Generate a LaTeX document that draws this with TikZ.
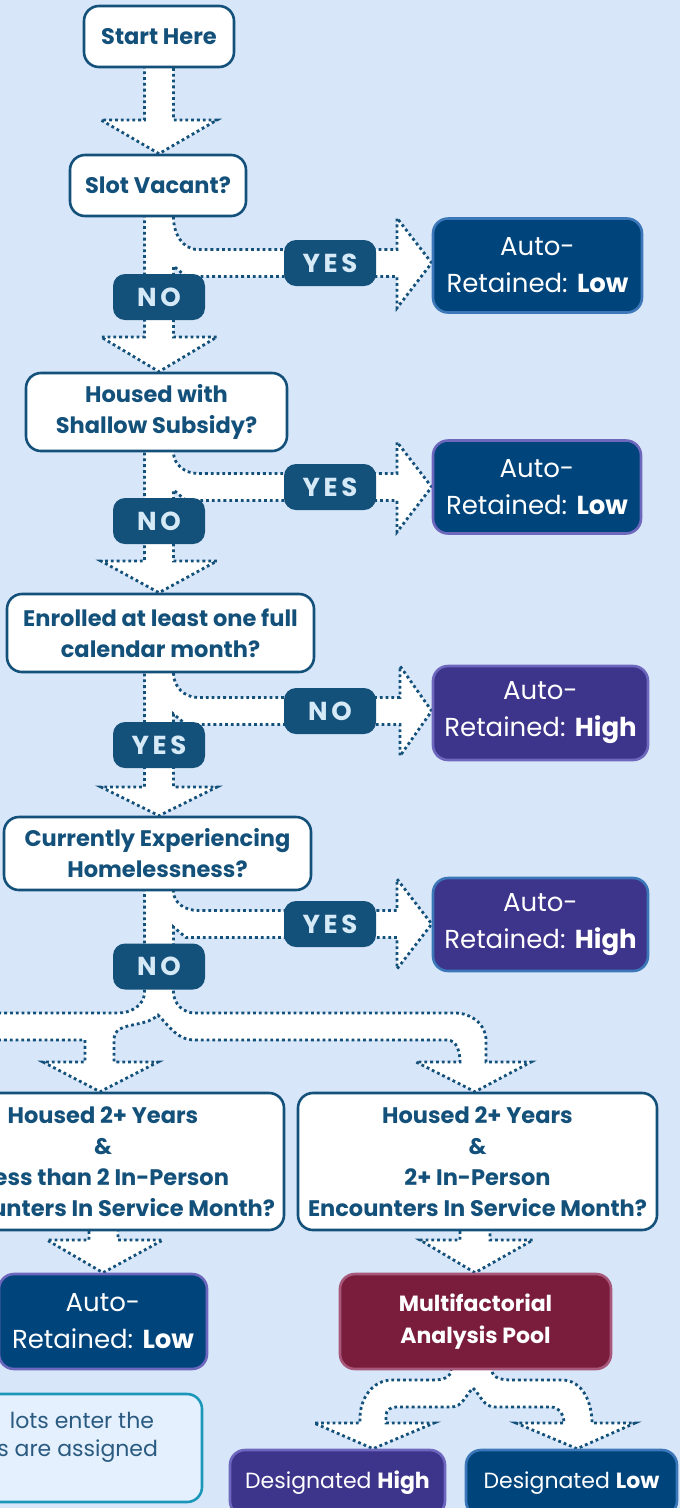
\documentclass[tikz,border=0pt]{standalone}
\usepackage{fontspec}
\setmainfont{Poppins}
\newfontfamily\pillfont[LetterSpace=14]{Poppins}
\usetikzlibrary{positioning, calc}
\definecolor{pagebg}{HTML}{D8E6F9}
\definecolor{qblue}{HTML}{13507A}
\definecolor{pilltxt}{HTML}{D5E9F6}
\definecolor{navyfill}{HTML}{00447C}
\definecolor{purplefill}{HTML}{3D348B}
\definecolor{blueedge}{HTML}{3C78B9}
\definecolor{purpleedge}{HTML}{6E67BE}
\definecolor{maroonfill}{HTML}{7A1C3C}
\definecolor{maroonedge}{HTML}{A8587A}
\definecolor{notefill}{HTML}{E4F0FD}
\definecolor{noteedge}{HTML}{1B98B9}
\definecolor{notetext}{HTML}{2A5A80}
\pgfdeclarelayer{back}
\pgfdeclarelayer{arrows}
\pgfsetlayers{back,arrows,main}

\begin{document}
\begin{tikzpicture}[x=1pt, y=-1pt,
  question/.style={draw=qblue, line width=2.6pt, fill=white, rounded corners=15pt,
    text=qblue, align=center, inner sep=0pt, font=\fontsize{22.5}{31}\selectfont\bfseries},
  outcome/.style={line width=2.6pt, rounded corners=15pt, text=white, align=center,
    inner sep=0pt, font=\fontsize{26}{37}\selectfont},
  pill/.style={fill=qblue, rounded corners=12pt, minimum width=92, minimum height=46,
    inner sep=0pt, text=pilltxt, font=\pillfont\fontsize{26}{26}\selectfont\bfseries},
  fat/.style={fill=white, draw=qblue, line width=2.8pt, dash pattern=on 2.8pt off 3pt}]

  \useasboundingbox (0,0) rectangle (680,1508);
  \begin{pgfonlayer}{back}
    \fill[pagebg] (0,0) rectangle (680,1508);
  \end{pgfonlayer}
  \clip (0,0) rectangle (680,1508);

  % questions down the left side
  \node[question, minimum width=150, minimum height=61] (start) at (159,36.5) {Start Here};
  \node[question, minimum width=176, minimum height=61] (q0) at (158,185.5) {Slot Vacant?};
  \node[question, minimum width=261, minimum height=78] (q1) at (156.5,412) {Housed with\\Shallow Subsidy?};
  \node[question, minimum width=307, minimum height=78] (q2) at (160.5,633) {Enrolled at least one full\\calendar month?};
  \node[question, minimum width=307, minimum height=73] (q3) at (157.5,853.5) {Currently Experiencing\\Homelessness?};
  \node[question, minimum width=362, minimum height=137] (hL) at (103,1161.5)
    {Housed 2+ Years\\\&\\\makebox[252pt][r]{ess than 2 In-Person}\\\makebox[344pt][r]{unters In Service Month?}};
  \node[question, minimum width=359, minimum height=137] (hR) at (477.5,1161.5)
    {Housed 2+ Years\\\&\\2+ In-Person\\Encounters In Service Month?};

  % outcomes
  \node[outcome, fill=navyfill, draw=blueedge, minimum width=209, minimum height=94] (r0) at (537.5,265.5) {Auto-\\Retained: \textbf{Low}};
  \node[outcome, fill=navyfill, draw=purpleedge, minimum width=208, minimum height=93] (r1) at (537,487) {Auto-\\Retained: \textbf{Low}};
  \node[outcome, fill=purplefill, draw=purpleedge, minimum width=215, minimum height=94] (r2) at (540.5,713) {Auto-\\Retained: \textbf{High}};
  \node[outcome, fill=purplefill, draw=blueedge, minimum width=215, minimum height=93] (r3) at (540.5,924.5) {Auto-\\Retained: \textbf{High}};
  \node[outcome, fill=navyfill, draw=purpleedge, minimum width=208, minimum height=95] (lL) at (103,1321.5) {Auto-\\Retained: \textbf{Low}};
  \node[outcome, fill=maroonfill, draw=maroonedge, minimum width=271, minimum height=95,
    font=\fontsize{22}{32}\selectfont\bfseries] (mfp) at (475.5,1321.5) {Multifactorial\\Analysis Pool};
  \node[outcome, fill=purplefill, draw=purpleedge, minimum width=215, minimum height=66,
    font=\fontsize{22}{26}\selectfont] (dH) at (337.5,1483) {Designated \textbf{High}};
  \node[outcome, fill=navyfill, draw=blueedge, minimum width=211, minimum height=66,
    font=\fontsize{22}{26}\selectfont] (dL) at (571.5,1483) {Designated \textbf{Low}};
  \node[outcome, fill=notefill, draw=noteedge, text=notetext, minimum width=352, minimum height=108,
    font=\fontsize{22}{28}\selectfont] (note) at (26,1448)
    {\makebox[256pt][r]{lots enter the}\\\makebox[264pt][r]{s are assigned}\\\mbox{}};

  % answer labels
  \node[pill] (p0) at (330,263) {YES};
  \node[pill] (p1) at (330,487) {YES};
  \node[pill] (p2) at (330,711) {NO};
  \node[pill] (p3) at (330,924) {YES};
  \node[pill] (d0) at (159,297) {NO};
  \node[pill] (d1) at (159,521) {NO};
  \node[pill] (d2) at (159,745) {YES};
  \node[pill] (d3) at (159,966.5) {NO};

  % wide dotted arrows behind the boxes
  \begin{pgfonlayer}{arrows}
  \path[fat] (144.5,0 |- start.center) -- (144.5,120) -- (101,120) -- (159,0 |- q0.north)
    -- (217,120) -- (173.5,120) -- (173.5,0 |- start.center) -- cycle;
  \path[fat] (144.5,0 |- q0.center) -- (144.5,337) -- (101,337) -- (159,0 |- q1.north)
    -- (217,337) -- (173.5,337) -- (173.5,266) -- (186,276.5) -- (397,276.5) -- (397,308)
    -- (r0.west |- p0.center) -- (397,218) -- (397,249.5) -- (198,249.5)
    to[out=180,in=-90] (173.5,0 |- q0.south) -- (173.5,0 |- q0.center) -- cycle;
  \path[fat] (144.5,0 |- q1.center) -- (144.5,561) -- (101,561) -- (159,0 |- q2.north)
    -- (217,561) -- (173.5,561) -- (173.5,490) -- (186,500.5) -- (397,500.5) -- (397,532)
    -- (r1.west |- p1.center) -- (397,442) -- (397,473.5) -- (198,473.5)
    to[out=180,in=-90] (173.5,0 |- q1.south) -- (173.5,0 |- q1.center) -- cycle;
  \path[fat] (144.5,0 |- q2.center) -- (144.5,787) -- (101,787) -- (159,0 |- q3.north)
    -- (217,787) -- (173.5,787) -- (173.5,714) -- (186,724.5) -- (400,724.5) -- (400,756)
    -- (r2.west |- p2.center) -- (400,666) -- (400,697.5) -- (198,697.5)
    to[out=180,in=-90] (173.5,0 |- q2.south) -- (173.5,0 |- q2.center) -- cycle;
  \path[fat] (144.5,0 |- q3.center) -- (144.5,0 |- d3.center) -- (173.5,0 |- d3.center)
    -- (173.5,927) -- (186,937.5) -- (397,937.5) -- (397,969)
    -- (r3.west |- p3.center) -- (397,879) -- (397,910.5) -- (198,910.5)
    to[out=180,in=-90] (173.5,0 |- q3.south) -- (173.5,0 |- q3.center) -- cycle;
  % the split below the last NO
  \path[fat] (144.5,0 |- d3.center) -- (144.5,992) to[out=-90,in=0] (118,1013) -- (-10,1013)
    -- (-10,1040) -- (85,1040) -- (85,1062) -- (43,1062) -- (100,0 |- hL.north) -- (158,1062)
    -- (114,1062) -- (114,1040) to[out=90,in=-135] (158,1015) to[out=-45,in=180] (195,1040)
    -- (447,1040) to[out=0,in=90] (460,1062) -- (416,1062) -- (475,0 |- hR.north) -- (531,1062)
    -- (486,1062) -- (486,1040) to[out=90,in=0] (455,1013) -- (195,1013)
    to[out=180,in=-90] (173.5,992) -- (173.5,0 |- d3.center) -- cycle;
  \path[fat] (89,0 |- hL.center) -- (89,1240) -- (47,1240) -- (103,0 |- lL.north)
    -- (163,1240) -- (118,1240) -- (118,0 |- hL.center) -- cycle;
  \path[fat] (460,0 |- hR.center) -- (460,1240) -- (420,1240) -- (475,0 |- mfp.north)
    -- (533,1240) -- (490,1240) -- (490,0 |- hR.center) -- cycle;
  % the split below the analysis pool
  \path[fat] (451,0 |- mfp.center) -- (451,1370) to[out=-90,in=0] (434,1380) -- (392,1380)
    to[out=180,in=90] (360,1418) -- (360,1423) -- (314,1423) -- (373,0 |- dH.north)
    -- (434,1423) -- (386,1423) -- (386,1415) to[out=90,in=180] (396,1407) -- (451,1407)
    to[out=0,in=-135] (473,1388) to[out=-45,in=180] (495,1407) -- (551,1407)
    to[out=0,in=90] (564,1423) -- (516,1423) -- (577,0 |- dL.north) -- (635,1423)
    -- (592,1423) to[out=90,in=0] (562,1380) -- (512,1380) to[out=180,in=-90] (492,1370)
    -- (492,0 |- mfp.center) -- cycle;
  \end{pgfonlayer}
\end{tikzpicture}
\end{document}
